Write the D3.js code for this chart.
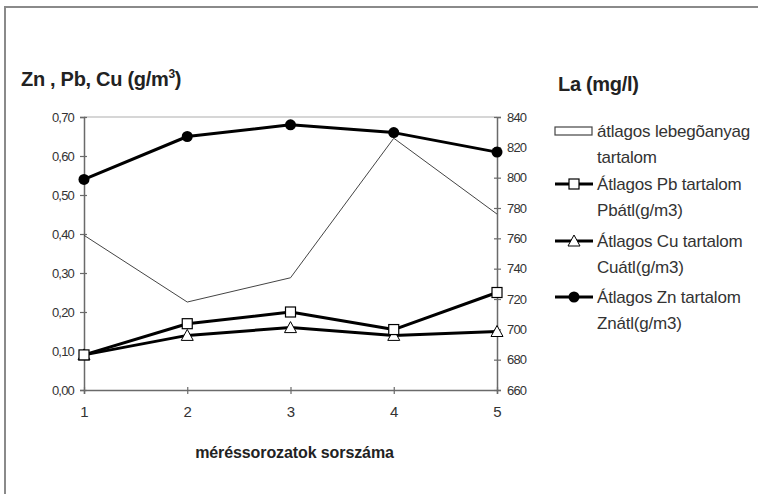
<!DOCTYPE html>
<html>
<head>
<meta charset="utf-8">
<script src="https://cdn.jsdelivr.net/npm/d3@7"></script>
<style>
body { margin: 0; background: #fff; }
svg text { font-family: "Liberation Sans", Arial, sans-serif; }
</style>
</head>
<body>
<div id="chart"></div>
<script>
// data
const series = [1, 2, 3, 4, 5];
const la = [762, 718, 734, 826, 776];
const pb = [0.09, 0.17, 0.20, 0.155, 0.25];
const cu = [0.09, 0.14, 0.16, 0.14, 0.15];
const zn = [0.54, 0.65, 0.68, 0.66, 0.61];
const leftTicks = [0, 0.1, 0.2, 0.3, 0.4, 0.5, 0.6, 0.7];
const rightTicks = [660, 680, 700, 720, 740, 760, 780, 800, 820, 840];

const W = 758, H = 494;
const margin = {top: 117, right: 261, bottom: 104, left: 84},
    width = W - margin.left - margin.right,
    height = H - margin.top - margin.bottom;

const svg = d3.select("#chart").append("svg")
    .attr("width", W).attr("height", H);

// outer frame (left and top edges only visible)
svg.append("line").attr("x1", 5).attr("x2", 5).attr("y1", 6).attr("y2", H)
    .attr("stroke", "#8a8a8a").attr("stroke-width", 2);
svg.append("line").attr("x1", 4).attr("x2", W).attr("y1", 7).attr("y2", 7)
    .attr("stroke", "#8a8a8a").attr("stroke-width", 2);

const g = svg.append("g").attr("transform", `translate(${margin.left}, ${margin.top})`);

const x = d3.scaleLinear().domain([1, 5]).range([0, width]);
const yL = d3.scaleLinear().domain([0, 0.7]).range([height, 0]);
const yR = d3.scaleLinear().domain([660, 840]).range([height, 0]);

// top border of plot area
g.append("line").attr("x1", 0).attr("x2", width).attr("y1", 0).attr("y2", 0)
    .attr("stroke", "#c8c8c8").attr("stroke-width", 1.5);

const fmt = d => d3.format(".2f")(d).replace(".", ",");

// left axis
const axL = g.append("g")
    .call(d3.axisLeft(yL).tickValues(leftTicks).tickFormat(fmt).tickSize(4).tickPadding(6));
// right axis
const axR = g.append("g").attr("transform", `translate(${width},0)`)
    .call(d3.axisRight(yR).tickValues(rightTicks).tickSize(4).tickPadding(6));
// bottom axis
const axB = g.append("g").attr("transform", `translate(0,${height})`)
    .call(d3.axisBottom(x).tickValues(series).tickFormat(d3.format("d")).tickSize(4).tickPadding(12));

[axL, axR, axB].forEach(a => {
  a.select(".domain").attr("stroke", "#6a6a6a").attr("stroke-width", 1.5);
  a.selectAll(".tick line").attr("stroke", "#6a6a6a").attr("stroke-width", 1.2);
  a.selectAll("text").attr("font-size", 13).attr("fill", "#333")
   .attr("letter-spacing", -0.8)
   .style("font-family", "'Liberation Sans', Arial, sans-serif");
});
// ticks cross the axis
axL.selectAll(".tick line").attr("x1", 3);
axR.selectAll(".tick line").attr("x1", -3);
axB.selectAll(".tick line").attr("y1", -3);
axB.selectAll("text").attr("font-size", 15).attr("letter-spacing", 0);

// La line (thin, right axis)
g.append("path")
    .datum(la)
    .attr("fill", "none").attr("stroke", "#444").attr("stroke-width", 1)
    .attr("d", d3.line().x((d, i) => x(series[i])).y(d => yR(d)));

const lineL = d3.line().x((d, i) => x(series[i])).y(d => yL(d));

function drawLine(vals) {
  g.append("path").datum(vals)
    .attr("fill", "none").attr("stroke", "#000").attr("stroke-width", 3)
    .attr("stroke-linejoin", "round")
    .attr("d", lineL);
}
drawLine(cu);
drawLine(pb);
drawLine(zn);

// Cu triangles
g.selectAll(".tri").data(cu).join("path")
    .attr("transform", (d, i) => `translate(${x(series[i])},${yL(d)})`)
    .attr("d", "M0,-6L6,5L-6,5Z")
    .attr("fill", "#fff").attr("stroke", "#000").attr("stroke-width", 1);
// Pb squares
g.selectAll(".sq").data(pb).join("rect")
    .attr("x", (d, i) => x(series[i]) - 5)
    .attr("y", d => yL(d) - 5)
    .attr("width", 10).attr("height", 10)
    .attr("fill", "#fff").attr("stroke", "#000").attr("stroke-width", 1.2);
// Zn circles
g.selectAll(".dot").data(zn).join("circle")
    .attr("cx", (d, i) => x(series[i]))
    .attr("cy", d => yL(d))
    .attr("r", 5.5).attr("fill", "#000");

// titles
const t1 = svg.append("text").attr("x", 21).attr("y", 86)
    .attr("font-size", 20).attr("font-weight", "bold").attr("fill", "#222")
    .attr("letter-spacing", -0.3);
t1.append("tspan").text("Zn , Pb, Cu (g/m");
t1.append("tspan").attr("font-size", 12).attr("dy", -8).text("3");
t1.append("tspan").attr("dy", 8).text(")");
svg.append("text").attr("x", 558).attr("y", 91)
    .attr("font-size", 20).attr("font-weight", "bold").attr("fill", "#222")
    .attr("letter-spacing", -0.3)
    .text("La (mg/l)");
svg.append("text").attr("x", margin.left + width / 2 + 4).attr("y", 458)
    .attr("text-anchor", "middle")
    .attr("font-size", 16).attr("font-weight", "bold").attr("fill", "#222")
    .attr("letter-spacing", -0.1)
    .text("méréssorozatok sorszáma");

// legend
const legend = [
  {lines: ["átlagos lebegõanyag", "tartalom"], type: "rect"},
  {lines: ["Átlagos Pb tartalom", "Pbátl(g/m3)"], type: "sq"},
  {lines: ["Átlagos Cu tartalom", "Cuátl(g/m3)"], type: "tri"},
  {lines: ["Átlagos Zn tartalom", "Znátl(g/m3)"], type: "dot"}
];
const legY = [131, 184, 241, 297];
const lg = svg.append("g");
legend.forEach((item, k) => {
  const y0 = legY[k];
  const row = lg.append("g").attr("transform", `translate(555,${y0})`);
  if (item.type === "rect") {
    row.append("rect").attr("x", 0).attr("y", -4).attr("width", 37).attr("height", 8)
      .attr("fill", "#fff").attr("stroke", "#444").attr("stroke-width", 1.2);
  } else {
    row.append("line").attr("x1", 0).attr("x2", 38).attr("y1", 0).attr("y2", 0)
      .attr("stroke", "#000").attr("stroke-width", 3);
    if (item.type === "sq") {
      row.append("rect").attr("x", 14).attr("y", -5).attr("width", 10).attr("height", 10)
        .attr("fill", "#fff").attr("stroke", "#000").attr("stroke-width", 1.2);
    } else if (item.type === "tri") {
      row.append("path").attr("transform", "translate(19,0)").attr("d", "M0,-6L6,5L-6,5Z")
        .attr("fill", "#fff").attr("stroke", "#000").attr("stroke-width", 1);
    } else {
      row.append("circle").attr("cx", 19).attr("cy", 0).attr("r", 5.5).attr("fill", "#000");
    }
  }
  item.lines.forEach((t, j) => {
    row.append("text").attr("x", 42).attr("y", 6 + j * 26)
      .attr("font-size", 17).attr("fill", "#333")
      .attr("letter-spacing", -0.2)
      .text(t);
  });
});
</script>
</body>
</html>
